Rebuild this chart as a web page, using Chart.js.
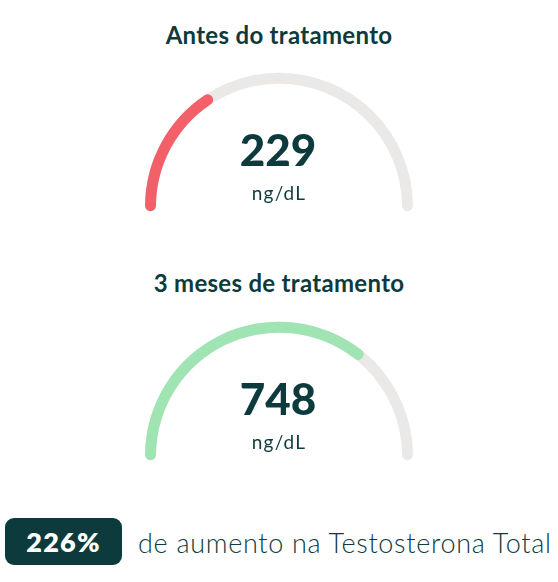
<!DOCTYPE html>
<html>
<head>
<meta charset="utf-8">
<script src="https://cdn.jsdelivr.net/npm/chart.js@4/dist/chart.umd.min.js"></script>
<style>
    html, body { margin: 0; padding: 0; background: #fff; }
    body { width: 558px; height: 582px; position: relative; overflow: hidden; font-family: Lato, "Noto Sans", sans-serif; color: #0d3b3d; }
    .title { position: absolute; left: 0; width: 558px; text-align: center; font-size: 24px; font-weight: 700; line-height: 26px; letter-spacing: 0.3px; }
    .gauge { position: absolute; left: 0; width: 558px; height: 150px; }
    .gauge canvas { position: absolute; left: 0; top: 0; }
    .badge { position: absolute; left: 5px; top: 518px; width: 117px; height: 47px; border-radius: 9px; background: #0d3b3d; color: #fff; font-size: 27px; font-weight: 800; line-height: 47px; text-align: center; letter-spacing: 1.2px; }
    .note { position: absolute; left: 138px; top: 524px; font-size: 27px; font-weight: 300; line-height: 38px; white-space: nowrap; letter-spacing: 0.7px; }
</style>
</head>
<body>
<div class="title" id="title-0" style="top:22px"></div>
<div class="gauge" style="top:67px">
    <canvas id="track-0" width="558" height="150"></canvas>
    <canvas id="gauge-0" width="558" height="150"></canvas>
</div>
<div class="title" id="title-1" style="top:270px"></div>
<div class="gauge" style="top:316px">
    <canvas id="track-1" width="558" height="150"></canvas>
    <canvas id="gauge-1" width="558" height="150"></canvas>
</div>
<div class="badge" id="badge"></div>
<div class="note" id="note"></div>

<script>
// dados
var titles = ["Antes do tratamento", "3 meses de tratamento"];
var values = [229, 748];
var unit = "ng/dL";
var fillPercent = [33, 72];   // parte do arco preenchida (%)
var colors = ["#f2606a", "#a0e4b4"];
var increase = "226%";
var increaseText = "de aumento na Testosterona Total";

var trackColor = "#ebe9e7";
var textColor = "#0d3b3d";

var gaugeOptions = {
    responsive: false,
    animation: false,
    events: [],
    rotation: -92,
    circumference: 184,
    radius: 134,
    cutout: '91.8%',
    plugins: {
        legend: { display: false },
        tooltip: { enabled: false }
    }
};

// escreve o valor e a unidade no centro do arco
var centerText = {
    id: 'centerText',
    afterDatasetsDraw: function (chart) {
        var arc = chart.getDatasetMeta(0).data[0];
        var ctx = chart.ctx;
        var idx = chart.options.gaugeIndex;
        ctx.save();
        ctx.fillStyle = textColor;
        ctx.textAlign = 'center';
        ctx.textBaseline = 'middle';
        ctx.font = '900 44px Lato, "Noto Sans", sans-serif';
        ctx.fillText(String(values[idx]), arc.x - 1, arc.y - 55);
        ctx.font = '400 19px Lato, "Noto Sans", sans-serif';
        ctx.letterSpacing = '1.2px';
        ctx.fillText(unit, arc.x, arc.y - 13);
        ctx.restore();
    }
};

function createGauge(i) {
    document.getElementById('title-' + i).textContent = titles[i];

    new Chart(document.getElementById('track-' + i).getContext('2d'), {
        type: 'doughnut',
        data: {
            datasets: [{
                data: [100],
                backgroundColor: [trackColor],
                borderWidth: 0,
                borderRadius: 6
            }]
        },
        options: gaugeOptions
    });

    var opts = Object.assign({}, gaugeOptions, { gaugeIndex: i });
    new Chart(document.getElementById('gauge-' + i).getContext('2d'), {
        type: 'doughnut',
        data: {
            datasets: [{
                data: [fillPercent[i], 100 - fillPercent[i]],
                backgroundColor: [colors[i], 'rgba(0,0,0,0)'],
                borderWidth: 0,
                borderRadius: [6, 0]
            }]
        },
        options: opts,
        plugins: [centerText]
    });
}

createGauge(0);
createGauge(1);

document.getElementById('badge').textContent = increase;
document.getElementById('note').textContent = increaseText;
</script>
</body>
</html>
